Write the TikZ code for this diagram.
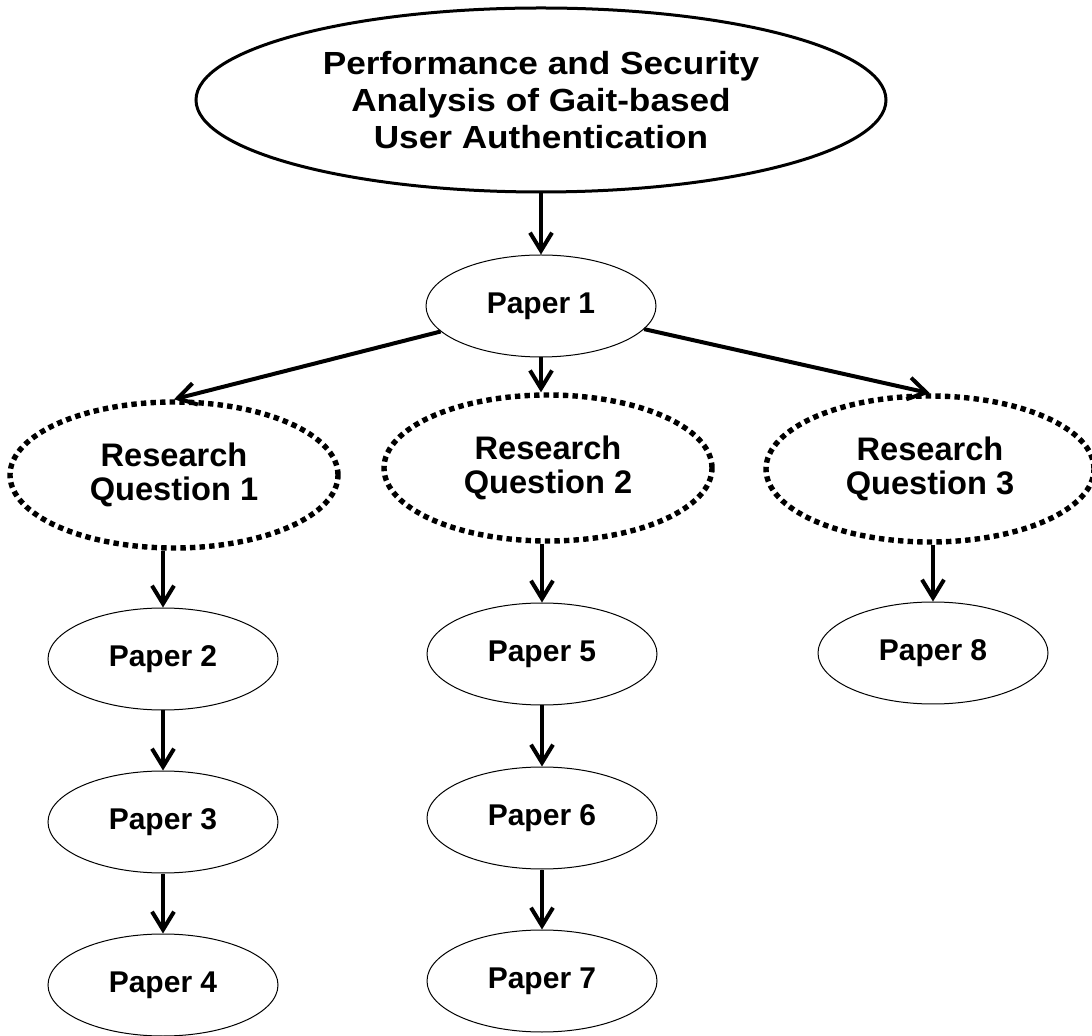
\documentclass[tikz,border=0pt]{standalone}
\usepackage{fontspec}
\setmainfont{Liberation Sans}
\newfontfamily\widesans[FakeStretch=1.1]{Liberation Sans}
\usepackage{tikz}
\usetikzlibrary{arrows.meta,shapes.geometric}
\tikzset{
  titleell/.style = {ellipse, draw=black, line width=1.5pt, inner sep=0pt,
                     minimum width=345pt, minimum height=92pt, align=center,
                     font=\widesans\fontsize{16}{18.3}\selectfont\bfseries},
  rqell/.style    = {ellipse, draw=black, line width=2.7pt,
                     dash pattern=on 2.7pt off 2.1pt, inner sep=0pt,
                     minimum width=164pt, minimum height=73pt, align=center,
                     font=\fontsize{16.3}{17.2}\selectfont\bfseries},
  paperell/.style = {ellipse, draw=black, line width=0.5pt, inner sep=0pt,
                     minimum width=115pt, minimum height=51pt,
                     font=\fontsize{15}{18}\selectfont\bfseries},
  flowar/.style   = {-{Straight Barb[length=9pt,width=11pt]}, line width=2pt}
}
\begin{document}
\begin{tikzpicture}[x=0.5pt, y=-0.5pt]
  \useasboundingbox (0,0) rectangle (1092,1036);
  \node[titleell] (title) at (541,100)
       {Performance and Security\\Analysis of Gait-based\\User Authentication};
  \node[paperell] (p1) at (541,306) {Paper 1};
  \node[rqell] (rq1) at (174,475) {Research\\Question 1};
  \node[rqell] (rq2) at (548,468) {Research\\Question 2};
  \node[rqell] (rq3) at (930,469) {Research\\Question 3};
  \node[paperell] (p2) at (163,659) {Paper 2};
  \node[paperell] (p3) at (163,822) {Paper 3};
  \node[paperell] (p4) at (163,985) {Paper 4};
  \node[paperell] (p5) at (542,654) {Paper 5};
  \node[paperell] (p6) at (542,818) {Paper 6};
  \node[paperell] (p7) at (542,981) {Paper 7};
  \node[paperell] (p8) at (933,653) {Paper 8};
  \draw[flowar] (title) -- (p1);
  \draw[flowar] (p1) -- (rq1.north);
  \draw[flowar] (p1) -- (p1 |- rq2.north);
  \draw[flowar] (p1) -- (rq3.north);
  \draw[flowar] (p2 |- rq1.south) -- (p2);
  \draw[flowar] (p2) -- (p3);
  \draw[flowar] (p3) -- (p4);
  \draw[flowar] (p5 |- rq2.south) -- (p5);
  \draw[flowar] (p5) -- (p6);
  \draw[flowar] (p6) -- (p7);
  \draw[flowar] (p8 |- rq3.south) -- (p8);
\end{tikzpicture}
\end{document}
